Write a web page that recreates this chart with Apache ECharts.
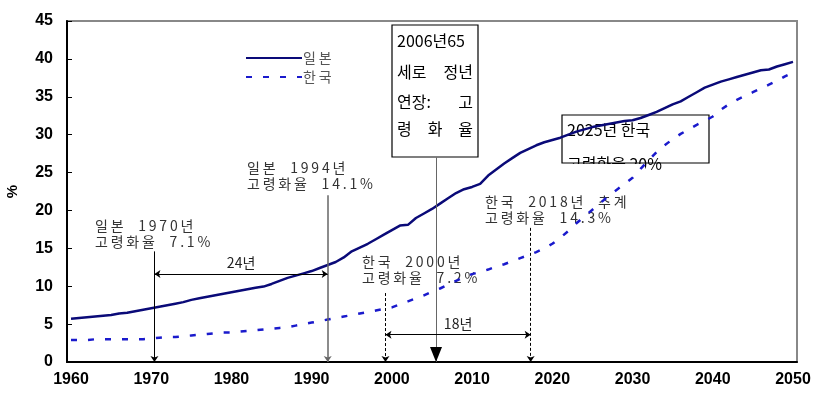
<!DOCTYPE html>
<html>
<head>
<meta charset="utf-8">
<script src="https://cdn.jsdelivr.net/npm/echarts@6/dist/echarts.min.js"></script>
<style>
html, body { margin: 0; padding: 0; background: #fff; }
#chart { width: 828px; height: 405px; }
</style>
</head>
<body>
<div id="chart"></div>
<script>
// 연도 (카테고리)
var years = [
  '1960','1961','1962','1963','1964','1965','1966','1967','1968','1969',
  '1970','1971','1972','1973','1974','1975','1976','1977','1978','1979',
  '1980','1981','1982','1983','1984','1985','1986','1987','1988','1989',
  '1990','1991','1992','1993','1994','1995','1996','1997','1998','1999',
  '2000','2001','2002','2003','2004','2005','2006','2007','2008','2009',
  '2010','2011','2012','2013','2014','2015','2016','2017','2018','2019',
  '2020','2021','2022','2023','2024','2025','2026','2027','2028','2029',
  '2030','2031','2032','2033','2034','2035','2036','2037','2038','2039',
  '2040','2041','2042','2043','2044','2045','2046','2047','2048','2049',
  '2050'
];

// 일본 고령화율 (%)
var japan = [
  5.7, 5.8, 5.9, 6.0, 6.1, 6.2, 6.4, 6.5, 6.7, 6.9,
  7.1, 7.3, 7.5, 7.7, 7.9, 8.2, 8.4, 8.6, 8.8, 9.0,
  9.2, 9.4, 9.6, 9.8, 9.95, 10.3, 10.7, 11.1, 11.4, 11.7,
  12.0, 12.4, 12.8, 13.2, 13.8, 14.6, 15.1, 15.6, 16.2, 16.8,
  17.4, 18.0, 18.1, 19.0, 19.6, 20.2, 20.9, 21.6, 22.3, 22.8,
  23.1, 23.5, 24.6, 25.4, 26.2, 26.9, 27.6, 28.1, 28.6, 29.0,
  29.3, 29.6, 30.0, 30.4, 30.7, 31.0, 31.2, 31.4, 31.6, 31.8,
  31.9, 32.2, 32.6, 33.0, 33.5, 34.0, 34.4, 35.0, 35.6, 36.2,
  36.6, 37.0, 37.3, 37.6, 37.9, 38.2, 38.5, 38.6, 39.0, 39.3,
  39.6
];

// 한국 고령화율 (%)
var korea = [
  2.9, 2.9, 2.9, 3.0, 3.0, 3.0, 3.0, 3.0, 3.0, 3.0,
  3.1, 3.2, 3.3, 3.3, 3.4, 3.5, 3.6, 3.7, 3.8, 3.9,
  3.9, 4.0, 4.1, 4.2, 4.3, 4.4, 4.5, 4.6, 4.8, 5.0,
  5.2, 5.4, 5.6, 5.8, 6.0, 6.2, 6.4, 6.6, 6.8, 7.0,
  7.2, 7.6, 8.0, 8.4, 8.8, 9.3, 9.7, 10.2, 10.7, 11.2,
  11.6, 11.9, 12.2, 12.6, 12.9, 13.3, 13.7, 14.1, 14.5, 15.0,
  15.6, 16.4, 17.3, 18.3, 19.2, 20.1, 21.0, 21.9, 22.7, 23.5,
  24.3, 25.5, 26.6, 27.7, 28.6, 29.4, 30.1, 30.7, 31.3, 31.8,
  32.4, 33.3, 34.0, 34.6, 35.1, 35.6, 36.1, 36.6, 37.1, 37.7,
  38.2
];

// 주석 화살표 (연도, 시작값 -> 끝값)
var arrowJ1970 = [[1970.4, 14.6], [1970.4, 0]];
var arrowJ1994 = [[1992.0, 22.0], [1992.0, 0]];
var arrowK2000 = [[1999.2, 9.1], [1999.2, 0]];
var arrowK2018 = [[2017.3, 17.7], [2017.3, 0]];
var arrow2006 = [[2005.5, 27.0], [2005.5, 0]];
var span24 = [[1970.4, 11.6], [1992.0, 11.6]];
var span18 = [[1999.2, 3.6], [2017.3, 3.6]];

var cjk = '"Noto Sans CJK KR", "Noto Sans", sans-serif';
var noteColor = '#333';

function spaced(s) {
  return s.split('').join('\u2009');
}

function seg(pts, style, symbols, size, label) {
  return [
    { coord: pts[0], symbol: symbols[0], symbolSize: size, lineStyle: style, label: label || { show: false } },
    { coord: pts[1], symbol: symbols[1], symbolSize: size }
  ];
}

function note(x, y, lines) {
  return lines.map(function (t, i) {
    return {
      type: 'text', x: x, y: y + i * 15.5, z: 1,
      style: { text: spaced(t), font: '14px ' + cjk, fill: noteColor, verticalAlign: 'middle' }
    };
  });
}

// 상자 안 정렬된 줄
function justified(x0, x1, y, words) {
  return words.map(function (w, i) {
    var align = 'left', x = x0;
    if (words.length > 1) {
      if (i === words.length - 1) { align = 'right'; x = x1; }
      else if (i > 0) { align = 'center'; x = x0 + (x1 - x0) * i / (words.length - 1); }
    }
    return {
      type: 'text', x: x, y: y, z: 1,
      style: { text: w, font: '16px ' + cjk, fill: '#000', align: align, verticalAlign: 'middle' }
    };
  });
}

var chart = echarts.init(document.getElementById('chart'));

var graphics = []
  .concat(note(95, 226, ['일본  1970년', '고령화율  7.1%']))
  .concat(note(247, 168, ['일본  1994년', '고령화율  14.1%']))
  .concat(note(362, 262, ['한국  2000년', '고령화율  7.2%']))
  .concat(note(485, 202, ['한국  2018년  추계', '고령화율  14.3%']))
  .concat([{
    type: 'rect', z: 1,
    shape: { x: 392, y: 25, width: 86, height: 132 },
    style: { fill: '#fff', stroke: '#000', lineWidth: 1.2 }
  }])
  .concat(justified(397, 473, 41, ['2006년65']))
  .concat(justified(397, 473, 72, ['세로', '정년']))
  .concat(justified(397, 473, 102, ['연장:', '고']))
  .concat(justified(397, 473, 129, ['령', '화', '율']))
  .concat([
    {
      type: 'text', x: 567, y: 130, z: 1,
      style: { text: '2025년 한국', font: '16px ' + cjk, fill: '#000', verticalAlign: 'middle' }
    },
    {
      type: 'text', x: 567, y: 164, z: 1,
      style: { text: '고령화율 20%', font: '16px ' + cjk, fill: '#000', verticalAlign: 'middle' }
    },
    {
      type: 'rect', z: 1, z2: 10,
      shape: { x: 563, y: 164, width: 82, height: 14 },
      style: { fill: '#fff' }
    },
    {
      type: 'rect', z: 1, z2: 11,
      shape: { x: 562, y: 115, width: 147, height: 48 },
      style: { fill: 'none', stroke: '#000', lineWidth: 1.2 }
    }
  ]);

var thin = { color: '#000', width: 1, type: 'solid' };
var grey = { color: '#666', width: 1.5, type: 'solid' };
var dash = { color: '#000', width: 1, type: [3, 2] };
var spanLabel = function (t) {
  return { show: true, position: 'middle', formatter: t, color: '#222', fontSize: 14, fontFamily: cjk, distance: 4 };
};
var axisFont = 'Liberation Sans, Arial, sans-serif';

var option = {
  animation: false,
  backgroundColor: '#fff',
  grid: {
    left: 67, right: 31, top: 21, bottom: 43,
    containLabel: false,
    outerBoundsMode: 'none',
    show: true, borderColor: '#888', borderWidth: 2
  },
  legend: {
    data: ['일본', '한국'],
    orient: 'vertical',
    left: 240, top: 46,
    itemWidth: 56, itemHeight: 14, itemGap: 5,
    itemStyle: { opacity: 0 },
    formatter: function (n) { return spaced(n); },
    textStyle: { fontSize: 14, color: '#555', fontFamily: cjk, padding: [0, 0, 0, -4] }
  },
  xAxis: [
    {
      type: 'category',
      data: years,
      boundaryGap: true,
      axisLine: { lineStyle: { color: '#000', width: 2 } },
      axisTick: { show: false },
      axisLabel: {
        interval: 9, margin: 10,
        color: '#000', fontSize: 16, fontWeight: 'bold', fontFamily: axisFont
      }
    },
    { type: 'value', min: 1959.5, max: 2050.5, show: false }
  ],
  yAxis: {
    type: 'value', min: 0, max: 45, interval: 5,
    name: '%', nameLocation: 'middle', nameGap: 47, nameRotate: 90,
    nameTextStyle: { color: '#000', fontSize: 15, fontWeight: 'bold', fontFamily: axisFont },
    axisLine: { show: true, lineStyle: { color: '#000', width: 2 } },
    axisTick: { show: true, inside: true, length: 5, lineStyle: { color: '#000' } },
    splitLine: { show: false },
    axisLabel: {
      margin: 14,
      color: '#000', fontSize: 16, fontWeight: 'bold', fontFamily: axisFont
    }
  },
  graphic: graphics,
  series: [
    {
      name: '일본', type: 'line', data: japan,
      symbol: 'none', smooth: false, z: 3,
      lineStyle: { color: '#0a0a78', width: 2.5 },
      itemStyle: { color: '#0a0a78' }
    },
    {
      name: '한국', type: 'line', data: korea,
      symbol: 'none', smooth: false, z: 3,
      lineStyle: { color: '#1a1acc', width: 2.5, type: [6, 11] },
      itemStyle: { color: '#1a1acc' }
    },
    {
      type: 'line', xAxisIndex: 1, data: [], z: 4,
      silent: true,
      markLine: {
        silent: true,
        animation: false,
        emphasis: { disabled: true },
        data: [
          seg(arrowJ1970, thin, ['none', 'arrow'], 6),
          seg(arrowJ1994, grey, ['none', 'arrow'], 6),
          seg(arrowK2000, dash, ['none', 'arrow'], 6),
          seg(arrowK2018, dash, ['none', 'arrow'], 6),
          seg(arrow2006, { color: '#666', width: 1, type: 'solid' }, ['none', 'none'], 6),
          seg(span24, thin, ['arrow', 'arrow'], 6, spanLabel('24년')),
          seg(span18, thin, ['arrow', 'arrow'], 6, spanLabel('18년'))
        ]
      },
      markPoint: {
        silent: true,
        animation: false,
        label: { show: false },
        data: [{
          coord: arrow2006[1],
          symbol: 'triangle', symbolRotate: 180, symbolSize: [12, 15],
          symbolOffset: [0, '-50%'],
          itemStyle: { color: '#000' }
        }]
      }
    }
  ]
};

chart.setOption(option);

window.addEventListener('resize', function () {
  chart.resize();
});
</script>
</body>
</html>
